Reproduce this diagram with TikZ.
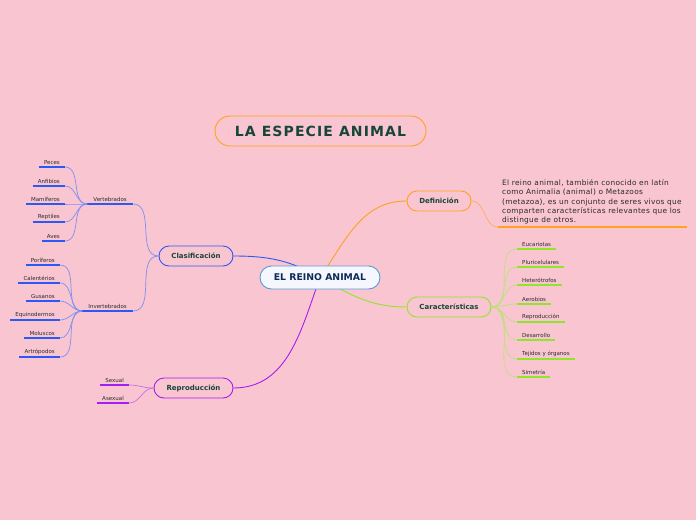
\documentclass[tikz,border=0pt]{standalone}
\usepackage{fontspec}
\setmainfont{DejaVu Sans}
\newfontfamily\titlefont[LetterSpace=8]{DejaVu Sans}
\newfontfamily\notefont[LetterSpace=4]{DejaVu Sans}
\usetikzlibrary{positioning}
\definecolor{pinkbg}{HTML}{F9C5D0}
\definecolor{deepgreen}{HTML}{17453A}
\definecolor{navytext}{HTML}{0F2A55}
\definecolor{leaftext}{HTML}{2B2B2B}
\definecolor{centerline}{HTML}{5B9BD5}
\definecolor{centerfill}{HTML}{F4F8FE}
\definecolor{titleorange}{HTML}{FFA31A}
\definecolor{clblue}{HTML}{2B59F5}
\definecolor{cllight}{HTML}{7F8FF2}
\definecolor{repurple}{HTML}{A51FF0}
\definecolor{relight}{HTML}{C46FE8}
\definecolor{deorange}{HTML}{FFA21F}
\definecolor{delight}{HTML}{F9B060}
\definecolor{cagreen}{HTML}{8EE62A}
\definecolor{calight}{HTML}{BCE27A}
\pgfdeclarelayer{back}
\pgfdeclarelayer{links}
\pgfsetlayers{back,links,main}
\tikzset{
  topic/.style={draw,fill=pinkbg,rounded corners=10pt,minimum height=20pt,line width=.9pt,
                font=\fontsize{7}{8}\selectfont\bfseries,text=deepgreen,inner sep=0pt},
  leaf/.style={font=\fontsize{5.5}{6.5}\selectfont,text=leaftext,inner xsep=5pt,inner ysep=2pt},
  link/.style={line width=.7pt},
  mainlink/.style={line width=.9pt},
  uline/.style={line width=1.2pt},
}
\begin{document}
\begin{tikzpicture}[x=1pt,y=-1pt]
  \begin{pgfonlayer}{back}
    \fill[pinkbg] (0,0) rectangle (696,520);
  \end{pgfonlayer}
  \useasboundingbox (0,0) rectangle (696,520);

  % title and centre
  \node[draw=titleorange,fill=pinkbg,line width=.9pt,rounded corners=15pt,minimum width=211pt,minimum height=30pt,
        font=\titlefont\fontsize{14}{16}\selectfont\bfseries,text=deepgreen] (ti) at (320.5,131) {LA ESPECIE ANIMAL};
  \node[draw=centerline,fill=centerfill,line width=.9pt,rounded corners=11.5pt,minimum width=120pt,minimum height=23pt,
        font=\fontsize{9.3}{11}\selectfont\bfseries,text=navytext] (ce) at (320,277.5) {EL REINO ANIMAL};

  % main topics
  \node[topic,draw=clblue,minimum width=74pt] (cl) at (196,256) {Clasificación};
  \node[topic,draw=repurple,minimum width=79pt] (re) at (193.5,388) {Reproducción};
  \node[topic,draw=deorange,minimum width=64pt] (de) at (439,201) {Definición};
  \node[topic,draw=cagreen,minimum width=84pt] (ca) at (449,307) {Características};
  \begin{pgfonlayer}{links}
    \draw[mainlink,clblue] (ce.center) to[out=150,in=0] (cl.east);
    \draw[mainlink,repurple] (ce.center) to[out=-110,in=0] (re.east);
    \draw[mainlink,deorange] (ce.center) to[out=55,in=180] (de.west);
    \draw[mainlink,cagreen] (ce.center) to[out=-30,in=180] (ca.west);
  \end{pgfonlayer}

  % clasificacion
  \node[leaf,inner xsep=6pt,anchor=south east] (vt) at (133,204) {Vertebrados};
  \node[leaf,inner xsep=6pt,anchor=south east] (iv) at (133,311) {Invertebrados};
  \draw[uline,clblue] (vt.south west)--(vt.south east); \draw[uline,clblue] (iv.south west)--(iv.south east);
  \draw[link,cllight] (cl.west) to[out=180,in=0] (vt.south east);
  \draw[link,cllight] (cl.west) to[out=180,in=0] (iv.south east);

  \node[leaf,anchor=south east] (pe) at (65,167) {Peces};
  \node[leaf,anchor=south east] (an) at (65,186) {Anfibios};
  \node[leaf,anchor=south east] (ma) at (65,204) {Mamíferos};
  \node[leaf,anchor=south east] (rp) at (65,222) {Reptiles};
  \node[leaf,anchor=south east] (av) at (65,241) {Aves};
  \draw[uline,clblue] (pe.south west)--(pe.south east); \draw[link,cllight] (vt.south west) to[out=180,in=0] (pe.south east);
  \draw[uline,clblue] (an.south west)--(an.south east); \draw[link,cllight] (vt.south west) to[out=180,in=0] (an.south east);
  \draw[uline,clblue] (ma.south west)--(ma.south east); \draw[link,cllight] (vt.south west) to[out=180,in=0] (ma.south east);
  \draw[uline,clblue] (rp.south west)--(rp.south east); \draw[link,cllight] (vt.south west) to[out=180,in=0] (rp.south east);
  \draw[uline,clblue] (av.south west)--(av.south east); \draw[link,cllight] (vt.south west) to[out=180,in=0] (av.south east);

  \node[leaf,anchor=south east] (po) at (60,265) {Poríferos};
  \node[leaf,anchor=south east] (ct) at (60,283) {Calentérios};
  \node[leaf,anchor=south east] (gu) at (60,301) {Gusanos};
  \node[leaf,anchor=south east] (eq) at (60,320) {Equinodermos};
  \node[leaf,anchor=south east] (mo) at (60,338) {Moluscos};
  \node[leaf,anchor=south east] (ar) at (60,357) {Artrópodos};
  \draw[uline,clblue] (po.south west)--(po.south east); \draw[link,cllight] (iv.south west) to[out=180,in=0] (po.south east);
  \draw[uline,clblue] (ct.south west)--(ct.south east); \draw[link,cllight] (iv.south west) to[out=180,in=0] (ct.south east);
  \draw[uline,clblue] (gu.south west)--(gu.south east); \draw[link,cllight] (iv.south west) to[out=180,in=0] (gu.south east);
  \draw[uline,clblue] (eq.south west)--(eq.south east); \draw[link,cllight] (iv.south west) to[out=180,in=0] (eq.south east);
  \draw[uline,clblue] (mo.south west)--(mo.south east); \draw[link,cllight] (iv.south west) to[out=180,in=0] (mo.south east);
  \draw[uline,clblue] (ar.south west)--(ar.south east); \draw[link,cllight] (iv.south west) to[out=180,in=0] (ar.south east);

  % reproduccion
  \node[leaf,anchor=south east] (sx) at (129,385) {Sexual};
  \node[leaf,anchor=south east] (as) at (129,403) {Asexual};
  \draw[uline,repurple] (sx.south west)--(sx.south east); \draw[link,relight] (re.west) to[out=180,in=0] (sx.south east);
  \draw[uline,repurple] (as.south west)--(as.south east); \draw[link,relight] (re.west) to[out=180,in=0] (as.south east);

  % definicion
  \node[anchor=south west,align=left,inner xsep=4pt,inner ysep=2.5pt,
        font=\notefont\fontsize{7.4}{9.3}\selectfont,text=leaftext] (dt) at (498,227)
        {El reino animal, también conocido en latín\\como Animalia (animal) o Metazoos\\(metazoa), es un conjunto de seres vivos que\\comparten características relevantes que los\\distingue de otros.};
  \coordinate (dtend) at (687,227);
  \draw[uline,deorange] (dt.south west)--(dtend);
  \draw[link,delight] (de.east) to[out=0,in=180] (dt.south west);

  % caracteristicas
  \node[leaf,anchor=south west] (eu) at (517,249) {Eucariotas};
  \node[leaf,anchor=south west] (pl) at (517,267) {Pluricelulares};
  \node[leaf,anchor=south west] (he) at (517,285) {Heterótrofos};
  \node[leaf,anchor=south west] (ae) at (517,304) {Aerobios};
  \node[leaf,anchor=south west] (rc) at (517,322) {Reproducción};
  \node[leaf,anchor=south west] (ds) at (517,340) {Desarrollo};
  \node[leaf,anchor=south west] (tj) at (517,359) {Tejidos y órganos};
  \node[leaf,anchor=south west] (si) at (517,377) {Simetría};
  \draw[uline,cagreen] (eu.south west)--(eu.south east); \draw[link,calight] (ca.east) to[out=0,in=180] (eu.south west);
  \draw[uline,cagreen] (pl.south west)--(pl.south east); \draw[link,calight] (ca.east) to[out=0,in=180] (pl.south west);
  \draw[uline,cagreen] (he.south west)--(he.south east); \draw[link,calight] (ca.east) to[out=0,in=180] (he.south west);
  \draw[uline,cagreen] (ae.south west)--(ae.south east); \draw[link,calight] (ca.east) to[out=0,in=180] (ae.south west);
  \draw[uline,cagreen] (rc.south west)--(rc.south east); \draw[link,calight] (ca.east) to[out=0,in=180] (rc.south west);
  \draw[uline,cagreen] (ds.south west)--(ds.south east); \draw[link,calight] (ca.east) to[out=0,in=180] (ds.south west);
  \draw[uline,cagreen] (tj.south west)--(tj.south east); \draw[link,calight] (ca.east) to[out=0,in=180] (tj.south west);
  \draw[uline,cagreen] (si.south west)--(si.south east); \draw[link,calight] (ca.east) to[out=0,in=180] (si.south west);
\end{tikzpicture}
\end{document}
